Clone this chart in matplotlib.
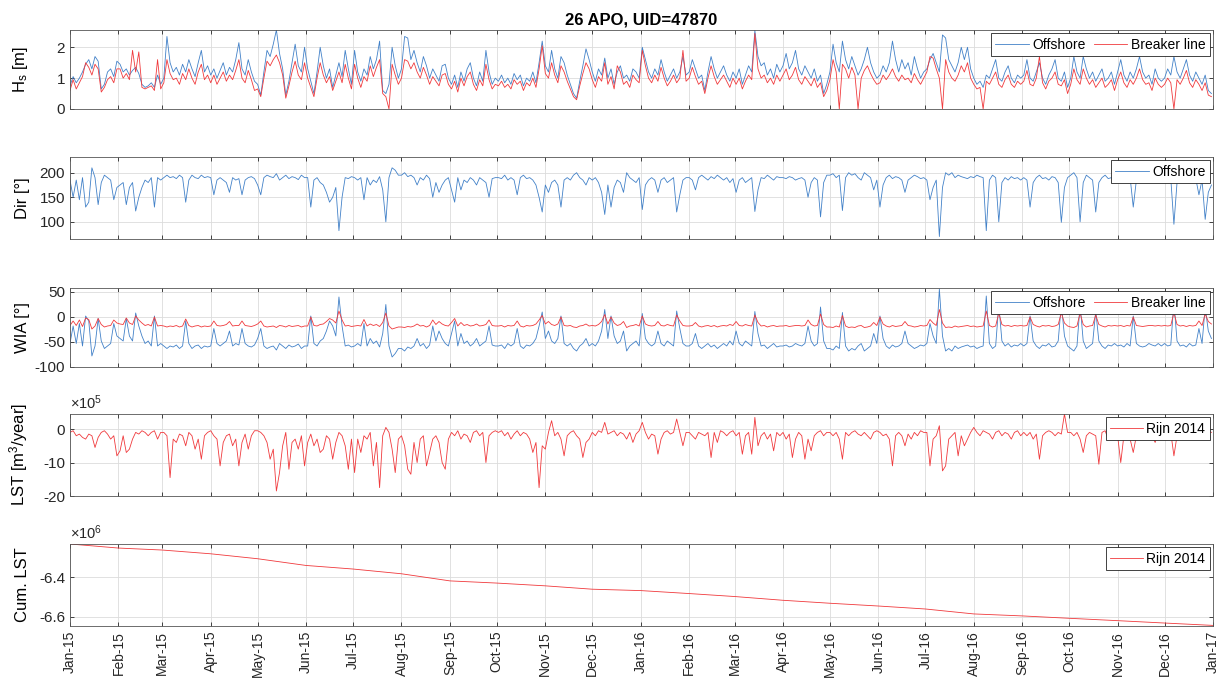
import numpy as np
import pandas as pd
import matplotlib
matplotlib.use("Agg")
import matplotlib.pyplot as plt
from matplotlib.ticker import FuncFormatter, FixedLocator
import matplotlib.dates as mdates

# ---------------- data (2-day sampling from 2015-01-01) ----------------
hs_offshore = (
    [0.75, 1.05, 0.85, 1.0, 1.2, 1.45, 1.6, 1.3, 1.7, 1.55, 0.65, 0.8, 1.2, 1.3, 1.05, 1.55]
    + [1.45, 1.2, 1.3, 1.1, 1.25, 1.35, 1.15, 0.8, 0.7, 0.75, 0.85, 0.7, 1.1, 0.8]
    + [1.0, 2.35, 1.5, 1.2, 1.35, 1.1, 1.45, 1.2, 1.6, 1.3, 1.05, 1.5, 1.9, 1.2, 1.4]
    + [1.1, 1.3, 1.0, 1.25, 1.5, 1.1, 1.35, 1.2, 1.6, 2.15, 1.3, 1.1, 1.6, 1.2, 0.9]
    + [0.8, 0.45, 1.2, 1.9, 1.7, 2.1, 2.56, 1.8, 1.3, 0.45, 0.9, 1.5, 2.1, 1.4, 1.2, 2.0]
    + [1.3, 0.9, 0.5, 1.2, 2.0, 1.4, 1.0, 1.3, 0.7, 1.1, 1.5, 1.05, 1.9, 1.3, 0.8]
    + [1.9, 1.2, 0.9, 1.3, 1.1, 1.7, 1.3, 1.6, 2.2, 0.6, 0.5, 0.8, 2.0, 1.4, 1.0]
    + [1.3, 2.35, 2.3, 1.6, 1.9, 1.5, 1.2, 1.7, 1.4, 1.0, 1.3, 1.1, 0.9, 1.4, 1.45, 1.0]
    + [0.8, 1.1, 0.7, 1.2, 0.9, 1.3, 1.5, 1.0, 0.75, 1.2, 0.9, 1.9, 1.2, 0.8, 1.0]
    + [0.9, 1.1, 0.85, 1.0, 0.8, 1.15, 0.95, 1.1, 0.75, 1.0, 0.9, 1.2, 0.85, 1.5, 2.2]
    + [1.4, 1.2, 1.9, 1.3, 1.0, 1.7, 1.5, 1.1, 0.8, 0.5, 0.35, 0.9, 1.4, 1.95, 1.6]
    + [1.2, 0.9, 1.3, 1.1, 1.65, 1.0, 1.3, 0.8, 1.2, 1.4, 1.0, 1.1, 0.9, 1.3, 1.2, 1.0]
    + [2.0, 1.6, 1.2, 1.0, 1.3, 1.1, 1.6, 1.2, 0.9, 1.1, 1.3, 1.0, 1.2, 1.7, 1.1]
    + [1.2, 1.6, 1.3, 1.0, 1.1, 0.6, 1.2, 1.7, 1.3, 1.0, 1.2, 1.4, 1.1, 0.9, 1.2]
    + [1.0, 1.3, 0.8, 1.1, 1.4, 1.2, 2.55, 1.7, 1.4, 1.5, 1.1, 1.3, 1.0, 1.45, 1.2]
    + [1.4, 1.8, 1.3, 1.5, 1.9, 1.3, 1.1, 1.4, 1.2, 1.0, 1.3, 0.9, 1.1, 0.5, 0.8]
    + [1.2, 2.1, 1.5, 1.2, 2.2, 1.6, 1.3, 1.7, 1.4, 1.1, 1.3, 1.6, 2.0, 1.5, 1.2, 1.0]
    + [1.1, 1.4, 1.2, 1.5, 2.2, 1.6, 1.2, 1.6, 1.3, 1.5, 1.1, 1.7, 1.3, 1.0, 1.2]
    + [1.3, 1.6, 1.8, 1.5, 1.2, 2.4, 2.3, 1.6, 1.4, 1.2, 1.5, 2.0, 1.6, 2.0, 1.3]
    + [1.0, 0.8, 0.9, 0.7, 1.1, 1.0, 1.3, 1.6, 1.0, 0.9, 1.2, 1.4, 1.0, 0.85, 1.1, 1.0]
    + [1.1, 1.6, 1.0, 0.9, 1.2, 1.5, 1.0, 0.8, 1.1, 1.3, 1.6, 1.0, 0.9, 1.2, 0.7]
    + [1.0, 1.7, 1.2, 1.0, 1.7, 1.3, 1.0, 1.2, 0.9, 1.1, 1.3, 0.9, 1.0, 1.2, 0.8]
    + [1.2, 1.6, 1.1, 0.9, 1.2, 1.0, 1.3, 1.7, 1.2, 1.0, 1.1, 0.8, 1.3, 1.0, 0.9]
    + [1.0, 1.3, 1.1, 1.7, 1.2, 1.0, 1.3, 1.6, 1.1, 0.9, 1.2, 1.0, 0.8, 1.1, 0.6, 0.5]
)
hs_breaker = (
    [0.6, 0.95, 0.65, 0.85, 1.05, 1.5, 1.35, 1.1, 1.45, 1.3, 0.55, 0.7, 0.95, 1.05, 0.85, 1.3]
    + [1.3, 1.0, 1.15, 0.95, 1.9, 1.2, 1.85, 0.7, 0.65, 0.7, 0.75, 0.6, 1.6, 0.65]
    + [0.85, 1.6, 1.15, 0.95, 1.0, 0.8, 1.15, 0.95, 1.3, 1.0, 0.8, 1.2, 1.45, 0.95, 1.1]
    + [0.85, 1.1, 0.8, 1.0, 1.2, 0.9, 1.1, 0.95, 1.25, 1.6, 1.0, 0.85, 1.25, 0.95, 0.6]
    + [0.65, 0.4, 1.0, 1.55, 1.4, 1.6, 1.75, 1.5, 1.1, 0.35, 0.75, 1.2, 1.55, 1.1, 0.95, 1.5]
    + [1.0, 0.7, 0.4, 1.0, 1.5, 1.1, 0.85, 1.05, 0.6, 0.9, 1.2, 0.85, 1.45, 1.0, 0.65]
    + [1.45, 1.0, 0.7, 1.05, 0.9, 1.4, 1.05, 1.35, 1.6, 0.5, 0.4, 0.0, 1.45, 1.1, 0.8]
    + [1.0, 1.6, 1.55, 1.3, 1.5, 1.2, 1.0, 1.35, 1.1, 0.8, 1.05, 0.9, 0.75, 1.1, 1.15, 0.8]
    + [0.65, 0.9, 0.55, 1.0, 0.75, 1.05, 1.2, 0.8, 0.6, 0.95, 0.75, 1.45, 0.95, 0.65, 0.8]
    + [0.75, 0.9, 0.7, 0.8, 0.65, 0.95, 0.8, 0.9, 0.6, 0.85, 0.75, 1.0, 0.7, 1.3, 2.05]
    + [1.15, 1.0, 1.5, 1.1, 0.85, 1.4, 1.2, 0.9, 0.65, 0.4, 0.3, 0.75, 1.15, 1.5, 1.3]
    + [0.95, 0.7, 1.05, 0.9, 1.5, 0.8, 1.05, 0.65, 1.4, 1.2, 0.8, 0.9, 0.7, 1.1, 0.95, 0.85]
    + [1.9, 1.4, 1.0, 0.85, 1.1, 0.9, 1.35, 1.0, 0.75, 0.9, 1.1, 0.85, 1.0, 1.9, 0.9]
    + [1.0, 1.35, 1.05, 0.8, 0.9, 0.5, 1.0, 1.4, 1.05, 0.8, 0.95, 1.1, 0.9, 0.7, 1.0]
    + [0.8, 1.0, 0.65, 0.9, 1.1, 0.95, 2.45, 1.3, 1.0, 1.1, 0.85, 1.0, 0.8, 1.1, 0.9]
    + [1.1, 1.3, 0.95, 1.1, 1.35, 0.95, 0.8, 1.05, 0.9, 0.75, 1.0, 0.7, 0.85, 0.4, 0.6]
    + [0.95, 1.6, 1.2, 0.0, 1.45, 1.3, 1.0, 1.35, 1.1, 0.0, 1.0, 1.25, 1.4, 1.15, 0.95, 0.8]
    + [0.85, 1.1, 0.95, 1.1, 1.3, 1.05, 0.9, 1.1, 0.95, 1.0, 0.85, 1.15, 0.95, 0.8, 1.0]
    + [1.2, 1.7, 1.65, 1.3, 1.0, 0.0, 1.6, 1.2, 1.0, 0.9, 1.1, 1.4, 1.2, 1.5, 1.0]
    + [0.8, 0.65, 0.7, 0.0, 0.9, 0.8, 1.0, 1.2, 0.8, 0.7, 0.95, 1.1, 0.8, 0.7, 0.9, 0.8]
    + [0.9, 1.25, 0.8, 0.75, 1.0, 1.7, 0.85, 0.65, 0.9, 1.0, 1.2, 0.8, 0.75, 0.95, 0.5]
    + [0.8, 1.3, 0.95, 0.8, 1.3, 1.0, 0.8, 0.95, 0.7, 0.85, 1.0, 0.7, 0.8, 0.95, 0.6]
    + [0.95, 1.2, 0.85, 0.7, 0.95, 0.8, 1.0, 1.3, 0.95, 0.8, 0.85, 0.6, 1.0, 0.8, 0.7]
    + [0.8, 1.0, 0.85, 0.0, 0.95, 0.8, 1.0, 1.25, 0.85, 0.7, 0.95, 0.8, 0.6, 0.85, 0.45, 0.4]
)
dir_offshore = (
    [185, 150, 185, 145, 190, 130, 140, 210, 190, 135, 180, 195, 190, 185, 145, 170]
    + [175, 180, 135, 170, 180, 122, 150, 170, 185, 180, 190, 130, 190, 185]
    + [190, 195, 190, 192, 188, 195, 190, 140, 185, 195, 190, 188, 195, 190, 192]
    + [190, 155, 185, 190, 185, 180, 160, 190, 185, 188, 155, 185, 190, 192, 188]
    + [175, 155, 190, 195, 192, 190, 198, 185, 190, 195, 188, 192, 190, 186, 195, 190]
    + [190, 130, 185, 190, 180, 175, 160, 140, 150, 170, 82, 150, 190, 188, 192]
    + [190, 185, 190, 145, 190, 175, 185, 180, 192, 165, 100, 190, 210, 205, 195]
    + [195, 200, 192, 195, 190, 175, 190, 185, 195, 188, 150, 180, 160, 175, 185, 190]
    + [165, 140, 190, 165, 185, 180, 190, 185, 175, 190, 185, 180, 150, 188, 190]
    + [190, 188, 195, 185, 190, 185, 155, 190, 195, 188, 190, 185, 175, 150, 120]
    + [175, 160, 180, 185, 175, 130, 185, 190, 185, 195, 200, 190, 185, 175, 190]
    + [185, 190, 180, 160, 115, 175, 130, 170, 185, 180, 160, 200, 190, 185, 180, 190]
    + [125, 175, 185, 190, 185, 160, 185, 190, 180, 185, 190, 120, 155, 185, 190]
    + [190, 185, 165, 190, 195, 190, 185, 192, 188, 195, 190, 185, 190, 180, 188]
    + [160, 185, 190, 180, 185, 190, 121, 165, 190, 188, 195, 190, 185, 192, 190]
    + [190, 188, 192, 190, 185, 188, 190, 185, 150, 180, 190, 185, 110, 180, 195]
    + [195, 198, 190, 195, 123, 190, 200, 195, 198, 190, 185, 200, 195, 190, 165, 185]
    + [130, 175, 190, 195, 188, 192, 190, 185, 160, 185, 190, 195, 192, 188, 190]
    + [185, 145, 170, 185, 70, 170, 200, 195, 200, 190, 195, 192, 190, 188, 192]
    + [190, 195, 192, 190, 82, 185, 195, 190, 100, 180, 190, 185, 192, 188, 190, 185]
    + [190, 185, 130, 180, 190, 195, 188, 190, 185, 192, 190, 180, 99, 170, 190]
    + [195, 200, 190, 100, 180, 195, 190, 185, 120, 180, 190, 195, 188, 190, 185]
    + [190, 188, 192, 185, 190, 130, 185, 190, 192, 190, 185, 188, 190, 185, 190]
    + [185, 190, 188, 95, 180, 190, 188, 192, 185, 190, 188, 155, 185, 105, 160, 175]
)
wia_offshore = (
    [-53, -18, -53, -13, -58, 2, -8, -78, -58, -3, -48, -63, -58, -53, -13, -38]
    + [-43, -48, -3, -38, -48, 8, -18, -38, -53, -48, -58, 2, -58, -53]
    + [-58, -63, -58, -60, -56, -63, -58, -8, -53, -63, -58, -56, -63, -58, -60]
    + [-58, -23, -53, -58, -53, -48, -28, -58, -53, -56, -23, -53, -58, -60, -56]
    + [-43, -23, -58, -63, -60, -58, -66, -53, -58, -63, -56, -60, -58, -54, -63, -58]
    + [-58, 2, -53, -58, -48, -43, -28, -8, -18, -38, 40, -18, -58, -56, -60]
    + [-58, -53, -58, -13, -58, -43, -53, -48, -60, -33, 25, -58, -80, -73, -63]
    + [-63, -68, -60, -63, -58, -43, -58, -53, -63, -56, -18, -48, -28, -43, -53, -58]
    + [-33, -8, -58, -33, -53, -48, -58, -53, -43, -58, -53, -48, -18, -56, -58]
    + [-58, -56, -63, -53, -58, -53, -23, -58, -63, -56, -58, -53, -43, -18, 10]
    + [-43, -28, -48, -53, -43, 2, -53, -58, -53, -63, -68, -58, -53, -43, -58]
    + [-53, -58, -48, -28, 15, -43, 2, -38, -53, -48, -28, -68, -58, -53, -48, -58]
    + [7, -43, -53, -58, -53, -28, -53, -58, -48, -53, -58, 12, -23, -53, -58]
    + [-58, -53, -33, -58, -63, -58, -53, -60, -56, -63, -58, -53, -58, -48, -56]
    + [-28, -53, -58, -48, -53, -58, 11, -33, -58, -56, -63, -58, -53, -60, -58]
    + [-58, -56, -60, -58, -53, -56, -58, -53, -18, -48, -58, -53, 20, -48, -63]
    + [-63, -66, -58, -63, 9, -58, -68, -63, -66, -58, -53, -68, -63, -58, -33, -53]
    + [2, -43, -58, -63, -56, -60, -58, -53, -28, -53, -58, -63, -60, -56, -58]
    + [-53, -13, -38, -53, 56, -38, -68, -63, -68, -58, -63, -60, -58, -56, -60]
    + [-58, -63, -60, -58, 42, -53, -63, -58, 25, -48, -58, -53, -60, -56, -58, -53]
    + [-58, -53, 2, -48, -58, -63, -56, -58, -53, -60, -58, -48, 26, -38, -58]
    + [-63, -68, -58, 25, -48, -63, -58, -53, 12, -48, -58, -63, -56, -58, -53]
    + [-58, -56, -60, -53, -58, 2, -53, -58, -60, -58, -53, -56, -58, -53, -58]
    + [-53, -58, -56, 30, -48, -58, -56, -60, -53, -58, -56, -23, -53, 20, -28, -43]
)
wia_breaker = (
    [-17, -8, -17, -6, -19, -2, -5, -24, -18, -3, -15, -20, -18, -17, -6, -12]
    + [-14, -15, -2, -12, -15, 2, -6, -12, -17, -15, -18, 0, -18, -17]
    + [-18, -20, -18, -19, -17, -20, -18, -4, -17, -20, -18, -17, -20, -18, -19]
    + [-18, -8, -17, -18, -17, -15, -9, -18, -17, -17, -8, -17, -18, -19, -17]
    + [-14, -8, -18, -20, -19, -18, -21, -17, -18, -20, -17, -19, -18, -17, -20, -18]
    + [-18, 0, -17, -18, -15, -14, -9, -3, -6, -12, 12, -6, -18, -17, -19]
    + [-18, -17, -18, -5, -18, -14, -17, -15, -19, -11, 8, -18, -24, -22, -20]
    + [-20, -21, -19, -20, -18, -14, -18, -17, -20, -17, -6, -15, -9, -14, -17, -18]
    + [-11, -3, -18, -11, -17, -15, -18, -17, -14, -18, -17, -15, -6, -17, -18]
    + [-18, -17, -20, -17, -18, -17, -8, -18, -20, -17, -18, -17, -14, -6, 3]
    + [-14, -9, -15, -17, -14, 0, -17, -18, -17, -20, -21, -18, -17, -14, -18]
    + [-17, -18, -15, -9, 5, -14, 0, -12, -17, -15, -9, -21, -18, -17, -15, -18]
    + [2, -14, -17, -18, -17, -9, -17, -18, -15, -17, -18, 4, -8, -17, -18]
    + [-18, -17, -11, -18, -20, -18, -17, -19, -17, -20, -18, -17, -18, -15, -17]
    + [-9, -17, -18, -15, -17, -18, 4, -11, -18, -17, -20, -18, -17, -19, -18]
    + [-18, -17, -19, -18, -17, -17, -18, -17, -6, -15, -18, -17, 6, -15, -20]
    + [-20, -21, -18, -20, 3, -18, -21, -20, -21, -18, -17, -21, -20, -18, -11, -17]
    + [0, -14, -18, -20, -17, -19, -18, -17, -9, -17, -18, -20, -19, -17, -18]
    + [-17, -5, -12, -17, 15, -12, -21, -20, -21, -18, -20, -19, -18, -17, -19]
    + [-18, -20, -19, -18, 12, -17, -20, -18, 8, -15, -18, -17, -19, -17, -18, -17]
    + [-18, -17, 0, -15, -18, -20, -17, -18, -17, -19, -18, -15, 8, -12, -18]
    + [-20, -21, -18, 8, -15, -20, -18, -17, 4, -15, -18, -20, -17, -18, -17]
    + [-18, -17, -19, -17, -18, 0, -17, -18, -19, -18, -17, -17, -18, -17, -18]
    + [-17, -18, -17, 9, -15, -18, -17, -19, -17, -18, -17, -8, -17, 6, -9, -14]
)
lst_rijn2014_e5 = (
    [-1.0, -0.5, -2.0, -1.5, -2.5, -3.0, -1.5, -2.0, -5.5, -2.5, -1.0, -0.5, -1.5, -3.0, -2.0, -8.0]
    + [-6.5, -2.0, -7.0, -6.0, -3.0, -1.0, -1.5, -0.5, -1.0, -2.0, -1.0, -0.5, -3.0, -1.0]
    + [-1.0, -2.0, -14.5, -3.0, -4.0, -1.5, -2.0, -5.0, -1.0, -2.0, -6.0, -3.0, -9.0, -2.0, -1.0]
    + [-0.5, -2.0, -3.0, -11.0, -4.0, -2.0, -1.5, -5.0, -3.0, -11.0, -4.0, -1.5, -6.0, -2.0, -0.5]
    + [-0.5, -1.0, -2.0, -4.0, -9.0, -6.0, -18.5, -13.0, -5.0, -1.0, -12.0, -4.0, -3.0, -6.0, -2.0, -11.0]
    + [-4.0, -1.5, -5.0, -3.0, -7.0, -6.0, -2.0, -3.0, -9.0, -4.0, -1.0, -2.0, -5.0, -12.0, -3.0]
    + [-13.0, -3.0, -7.0, -2.0, -3.0, -1.0, -11.0, -4.0, -17.5, -2.0, 0.5, -1.0, -6.0, -13.0, -3.0]
    + [-2.0, -5.0, -12.0, -13.5, -4.0, -10.0, -3.0, -2.0, -11.0, -7.0, -3.0, -2.0, -4.0, -10.0, -12.0, -3.0]
    + [-1.0, -2.0, -0.5, -3.0, -1.5, -2.0, -4.0, -1.0, -0.5, -2.0, -1.0, -10.0, -2.0, -1.0, -0.5]
    + [-1.0, -0.5, -2.0, -1.0, -3.0, -1.5, -0.5, -2.0, -1.0, -1.5, -3.0, -7.0, -4.0, -17.5, -5.0]
    + [-6.0, -1.0, 2.5, -2.0, -1.0, -3.0, -8.0, -2.0, -1.0, -0.5, -2.0, -3.0, -8.5, -4.0, -3.0]
    + [-1.0, -2.0, -0.5, -1.0, 2.0, -1.5, -1.0, -0.5, -2.0, -1.0, -1.5, -3.0, -1.0, -4.0, -1.5, -0.5]
    + [2.0, -1.0, -3.0, -1.5, -2.0, -7.5, -3.0, -1.0, -0.5, -1.5, -1.0, 3.0, -1.0, -5.0, -1.0]
    + [-1.0, -2.0, -3.0, -1.0, -1.5, -2.0, -1.0, -8.5, -1.0, -4.0, -0.5, -1.0, -2.0, -1.0, -0.5]
    + [-2.0, -1.0, -7.5, -2.0, -1.0, -7.5, 3.5, -5.0, -2.0, -1.0, -3.0, -1.5, -6.5, -1.0, -2.0]
    + [-1.0, -3.0, -1.5, -8.5, -3.0, -1.0, -2.0, -9.0, -3.0, -6.5, -2.0, -1.0, -0.5, -2.0, -1.0]
    + [-1.0, -2.0, -1.0, -3.0, -9.0, -1.0, -2.0, -1.0, -0.5, -1.5, -2.0, -1.0, -2.0, -3.0, -1.0, -0.5]
    + [-1.0, -2.0, -1.5, -3.0, -11.0, -2.0, -1.0, -2.0, -5.0, -1.5, -3.0, -1.0, -2.0, -0.5, -1.0]
    + [-1.0, -11.0, -3.0, -2.0, 1.0, -12.5, -11.0, -3.0, -2.0, -1.0, -8.0, -2.0, -5.0, -3.0, -1.0]
    + [0.5, -1.0, -2.0, -0.5, -1.0, -1.5, -3.0, -1.0, -0.5, -2.0, -1.0, -1.5, -3.0, -1.0, -0.5, -2.0]
    + [-1.0, -2.0, -1.0, -3.0, -1.5, -9.0, -2.0, -1.0, -0.5, -1.0, -2.0, -1.0, -1.5, 4.5, -1.0]
    + [-1.0, -2.0, -1.0, -3.0, -7.0, -2.0, -1.0, -1.5, -2.0, -10.5, -1.0, -0.5, -3.0, -1.0, -2.0]
    + [-2.0, -10.0, -2.0, -1.0, -3.0, -7.0, -2.0, -1.0, -0.5, -1.5, -1.0, -2.0, -4.0, -1.0, -0.5]
    + [-1.0, -2.0, -1.0, -8.0, -2.0, -1.0, -0.5, -1.5, -2.0, -1.0, -0.5, -1.5, -2.0, -1.0, -0.5, -1.0]
)
# cumulative LST at the start of each month (x 1e6 m3)
cum_lst_e6 = [-6.2325, -6.253, -6.263, -6.282, -6.307, -6.341, -6.359, -6.383, -6.419,
              -6.430, -6.444, -6.461, -6.468, -6.483, -6.498, -6.517, -6.532, -6.546,
              -6.561, -6.586, -6.596, -6.608, -6.620, -6.632, -6.644]

title = "26 APO, UID=47870"

# ---------------- styling ----------------
plt.rcParams["font.family"] = ["Liberation Sans", "DejaVu Sans"]
plt.rcParams["axes.unicode_minus"] = False
plt.rcParams["mathtext.fontset"] = "custom"
plt.rcParams["mathtext.rm"] = "Liberation Sans"
plt.rcParams["mathtext.it"] = "Liberation Sans"

BLUE = "#4281c8"
RED = "#f0393c"
LW = 0.6
AXC = "#555555"


def series_dates(vals):
    return pd.date_range("2015-01-01", periods=len(vals), freq="2D")


fig = plt.figure(figsize=(12.25, 6.81), dpi=100)
W, H = 1225.0, 681.0
left, right = 70, 1213
boxes = [(30, 109), (157, 239), (288, 367), (414, 496), (544, 626)]
axes = []
for top, bot in boxes:
    ax = fig.add_axes([left / W, 1 - bot / H, (right - left) / W, (bot - top) / H])
    axes.append(ax)

month_ticks = pd.date_range("2015-01-01", "2017-01-01", freq="MS")
xmin, xmax = pd.Timestamp("2015-01-01"), pd.Timestamp("2017-01-01")

leg_kw = dict(loc="upper right", fontsize=10, frameon=True, fancybox=False,
              edgecolor="#222222", framealpha=1, borderpad=0.3, handlelength=2.4,
              handletextpad=0.25, borderaxespad=0.25, columnspacing=0.6)


def style_legend(leg):
    leg.get_frame().set_linewidth(0.6)


# Panel 1: Hs
ax = axes[0]
ax.plot(series_dates(hs_offshore), hs_offshore, color=BLUE, lw=LW, label="Offshore")
ax.plot(series_dates(hs_breaker), hs_breaker, color=RED, lw=LW, label="Breaker line")
ax.set_ylim(0, 2.56)
ax.set_yticks([0, 1, 2])
ax.set_ylabel("H$_\\mathregular{s}$ [m]")
style_legend(ax.legend(ncol=2, **leg_kw))
ax.set_title(title, fontsize=12, fontweight="bold", pad=4)

# Panel 2: Dir
ax = axes[1]
ax.plot(series_dates(dir_offshore), dir_offshore, color=BLUE, lw=LW, label="Offshore")
ax.set_ylim(65, 232)
ax.set_yticks([100, 150, 200])
ax.set_ylabel("Dir [°]")
style_legend(ax.legend(**leg_kw))

# Panel 3: WIA
ax = axes[2]
ax.plot(series_dates(wia_offshore), wia_offshore, color=BLUE, lw=LW, label="Offshore")
ax.plot(series_dates(wia_breaker), wia_breaker, color=RED, lw=LW, label="Breaker line")
ax.set_ylim(-100, 58)
ax.set_yticks([-100, -50, 0, 50])
ax.set_ylabel("WIA [°]")
style_legend(ax.legend(ncol=2, **leg_kw))

# Panel 4: LST
ax = axes[3]
lst = np.array(lst_rijn2014_e5) * 1e5
ax.plot(series_dates(lst), lst, color=RED, lw=LW, label="Rijn 2014")
ax.set_ylim(-20e5, 4.5e5)
ax.set_yticks([-20e5, -10e5, 0])
ax.yaxis.set_major_formatter(FuncFormatter(lambda v, p: f"{v / 1e5:g}"))
ax.set_ylabel("LST [m$^\\mathregular{3}$/year]")
ax.text(0.0, 1.02, "×10$^\\mathregular{5}$", transform=ax.transAxes, fontsize=10.5,
        ha="left", va="bottom", color="#262626")
style_legend(ax.legend(**leg_kw))

# Panel 5: cumulative LST
ax = axes[4]
cum = np.array(cum_lst_e6) * 1e6
ax.plot(pd.date_range("2015-01-01", periods=len(cum), freq="MS"), cum, color=RED,
        lw=LW, label="Rijn 2014")
ax.set_ylim(-6.647e6, -6.2325e6)
ax.set_yticks([-6.6e6, -6.4e6])
ax.yaxis.set_major_formatter(FuncFormatter(lambda v, p: f"{v / 1e6:.1f}"))
ax.set_ylabel("Cum. LST")
ax.text(0.0, 1.02, "×10$^\\mathregular{6}$", transform=ax.transAxes, fontsize=10.5,
        ha="left", va="bottom", color="#262626")
style_legend(ax.legend(**leg_kw))

for i, ax in enumerate(axes):
    ax.set_xlim(xmin, xmax)
    ax.xaxis.set_major_locator(FixedLocator(mdates.date2num(month_ticks)))
    ax.grid(True, color="#dcdcdc", lw=0.6)
    ax.set_axisbelow(True)
    ax.tick_params(direction="in", top=True, right=True, length=3, width=0.6,
                   colors="#262626", labelsize=11)
    for s in ax.spines.values():
        s.set_color(AXC)
        s.set_linewidth(0.6)
    ax.yaxis.label.set_size(12)
    ax.yaxis.set_label_coords(-0.035, 0.5)
    if i < 4:
        ax.set_xticklabels([])
    else:
        ax.set_xticklabels([d.strftime("%b-%y") for d in month_ticks], rotation=90,
                           fontsize=10)

fig.savefig("out.png", dpi=100, facecolor="white")
